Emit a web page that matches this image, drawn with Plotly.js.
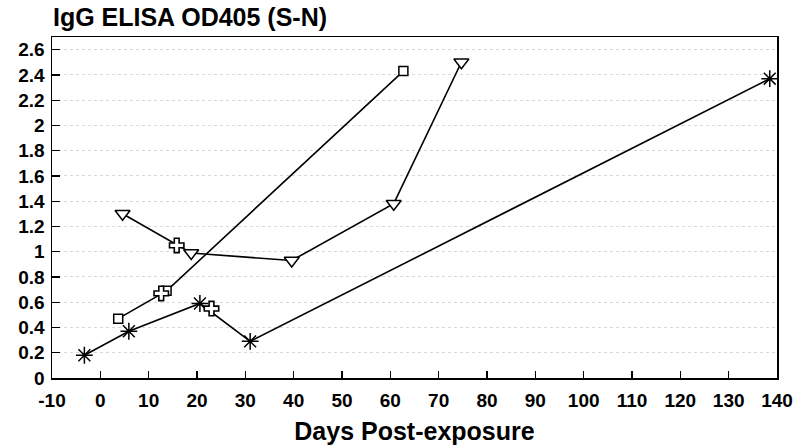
<!DOCTYPE html>
<html>
<head>
<meta charset="utf-8">
<script src="https://cdn.plot.ly/plotly-3.0.1.min.js"></script>
<style>html,body{margin:0;padding:0;background:#fff;}#chart{width:796px;height:448px;}</style>
</head>
<body>
<div id="chart"></div>
<script>
// Data
var asteriskDays = [-3.3, 5.9, 20.6, 31.0, 138.5];
var asteriskOD   = [0.18, 0.37, 0.59, 0.29, 2.37];

var squareDays = [3.7, 13.7, 62.7];
var squareOD   = [0.47, 0.69, 2.43];

var triangleDays = [4.6, 18.8, 39.6, 60.7, 74.7];
var triangleOD   = [1.30, 0.99, 0.93, 1.38, 2.50];

var plusDays = [12.6, 15.8, 23.0];
var plusOD   = [0.67, 1.05, 0.55];

var xTickValues = [-10, 0, 10, 20, 30, 40, 50, 60, 70, 80, 90, 100, 110, 120, 130, 140];
var yTickValues = [0, 0.2, 0.4, 0.6, 0.8, 1, 1.2, 1.4, 1.6, 1.8, 2, 2.2, 2.4, 2.6];
var yTickLabels = ['0','0.2','0.4','0.6','0.8','1','1.2','1.4','1.6','1.8','2','2.2','2.4','2.6'];

var titleText = 'IgG ELISA OD405 (S-N)';
var xTitleText = 'Days Post-exposure';

var FONT = 'Liberation Sans, Arial, Helvetica, sans-serif';
var lineStyle = {color: '#000', width: 1.6};

var traces = [
  {x: squareDays, y: squareOD, mode: 'lines+markers', line: lineStyle,
   marker: {symbol: 'square', size: 9, color: '#fff', line: {color: '#000', width: 1.5}}},
  {x: triangleDays, y: triangleOD, mode: 'lines+markers', line: lineStyle,
   marker: {symbol: 'triangle-down', size: 13, color: '#fff', line: {color: '#000', width: 1.5}}},
  {x: asteriskDays, y: asteriskOD, mode: 'lines+markers', line: lineStyle,
   marker: {symbol: 'asterisk-open', size: 14, color: '#000', line: {color: '#000', width: 1.5}}},
  {x: plusDays, y: plusOD, mode: 'markers',
   marker: {symbol: 'cross', size: 12, color: '#fff', line: {color: '#000', width: 1.6}}}
];

var layout = {
  width: 796, height: 448,
  margin: {l: 52, r: 19, t: 37, b: 70},
  paper_bgcolor: '#fff', plot_bgcolor: '#fff',
  showlegend: false,
  font: {family: FONT, color: '#000', size: 19, weight: 700},
  title: {text: titleText, xref: 'container', yref: 'container', x: 190/796, xanchor: 'center',
          y: 1 - 17/448, yanchor: 'middle', pad: {l: 0, r: 0, t: 0, b: 0},
          font: {family: FONT, size: 25, weight: 700, color: '#000'}},
  xaxis: {
    range: [-10, 140], tickvals: xTickValues, ticktext: xTickValues.map(String),
    ticks: 'inside', ticklen: 7, tickwidth: 1.3, tickcolor: '#000',
    showline: true, linecolor: '#000', linewidth: 1.5, mirror: true,
    showgrid: false, zeroline: false,
    tickfont: {family: FONT, size: 19, weight: 700, color: '#000'},
    ticklabelstandoff: 5,
    title: {text: xTitleText, font: {family: FONT, size: 25, weight: 700, color: '#000'}, standoff: 12},
    automargin: false, fixedrange: true
  },
  yaxis: {
    range: [0, 2.7], tickvals: yTickValues, ticktext: yTickLabels,
    ticks: 'inside', ticklen: 8, tickwidth: 1.3, tickcolor: '#000',
    showline: true, linecolor: '#000', linewidth: 1.5, mirror: true,
    showgrid: true, gridcolor: '#d8d8d8', griddash: 'dot', gridwidth: 1,
    zeroline: false,
    tickfont: {family: FONT, size: 19, weight: 700, color: '#000'},
    ticklabelstandoff: 2,
    automargin: false, fixedrange: true
  }
};

Plotly.newPlot('chart', traces, layout, {displayModeBar: false, staticPlot: true});
</script>
</body>
</html>
